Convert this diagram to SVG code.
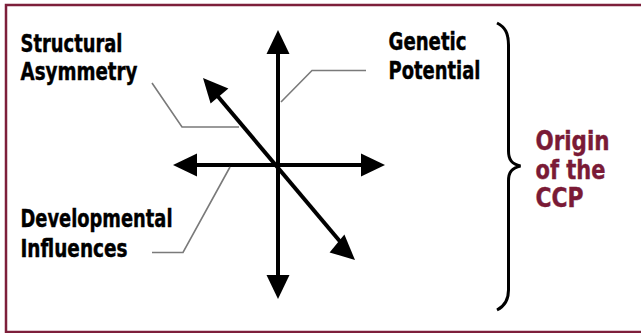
<svg xmlns="http://www.w3.org/2000/svg" width="641" height="333" viewBox="0 0 641 333">
<style>
.lbl{font-family:"DejaVu Sans Condensed","DejaVu Sans",sans-serif;font-stretch:condensed;font-weight:bold;font-size:24px;fill:#000;stroke:#000;stroke-width:0.4}
.ccp{font-family:"DejaVu Sans Condensed","DejaVu Sans",sans-serif;font-stretch:condensed;font-weight:bold;font-size:27px;fill:#7a1a36;stroke:#7a1a36;stroke-width:0.4}
.axis{stroke:#000;stroke-width:4;fill:none}
.lead{stroke:#7a7a7a;stroke-width:1.6;fill:none}
.head{fill:#000}
.frame{stroke:#7d1f3b;stroke-width:2.5;fill:none}
</style>
<rect width="641" height="333" fill="#fff"/>
<path class="frame" d="M641 5 H6 V332 H641"/>
<g id="connectors">
<line class="axis" x1="278" y1="50" x2="278" y2="278"/>
<polygon class="head" points="278,30 266.5,54 289.5,54"/>
<polygon class="head" points="278,299 266.5,275 289.5,275"/>
<line class="axis" x1="193" y1="165" x2="365" y2="165"/>
<polygon class="head" points="173,165 197,153.5 197,176.5"/>
<polygon class="head" points="385,165 361,153.5 361,176.5"/>
<line class="axis" x1="215" y1="93" x2="343" y2="245"/>
<polygon class="head" points="203,78 210.6,103.4 228.4,88.6"/>
<polygon class="head" points="355,260 329.6,252.4 344.4,234.6"/>
<polyline class="lead" points="152,83 182,127 239,127"/>
<polyline class="lead" points="281,102 312,70.5 366,70.5"/>
<polyline class="lead" points="230,167 183,252.5 152,252.5"/>
</g>
<g id="structural-asymmetry">
<text class="lbl" x="20.5" y="52" textLength="102" lengthAdjust="spacingAndGlyphs">Structural</text>
<text class="lbl" x="20.5" y="80" textLength="117" lengthAdjust="spacingAndGlyphs">Asymmetry</text>
</g>
<g id="genetic-potential">
<text class="lbl" x="388.5" y="49.5" textLength="78" lengthAdjust="spacingAndGlyphs">Genetic</text>
<text class="lbl" x="388.5" y="78.5" textLength="92" lengthAdjust="spacingAndGlyphs">Potential</text>
</g>
<g id="developmental-influences">
<text class="lbl" x="20.5" y="227" textLength="152" lengthAdjust="spacingAndGlyphs">Developmental</text>
<text class="lbl" x="20.5" y="256.5" textLength="107" lengthAdjust="spacingAndGlyphs">Influences</text>
</g>
<g id="origin-ccp">
<path d="M497 23 C505 27 508.5 33 508.5 45 L508.5 151 C508.5 160 512 164 520.5 166 C512 168 508.5 172 508.5 181 L508.5 290 C508.5 300 505 306 497 310" stroke="#000" stroke-width="3" fill="none"/>
<text class="ccp" x="535.5" y="150" textLength="74" lengthAdjust="spacingAndGlyphs">Origin</text>
<text class="ccp" x="535.5" y="178.5" textLength="70" lengthAdjust="spacingAndGlyphs">of the</text>
<text class="ccp" x="535.5" y="207" textLength="48" lengthAdjust="spacingAndGlyphs">CCP</text>
</g>
</svg>
